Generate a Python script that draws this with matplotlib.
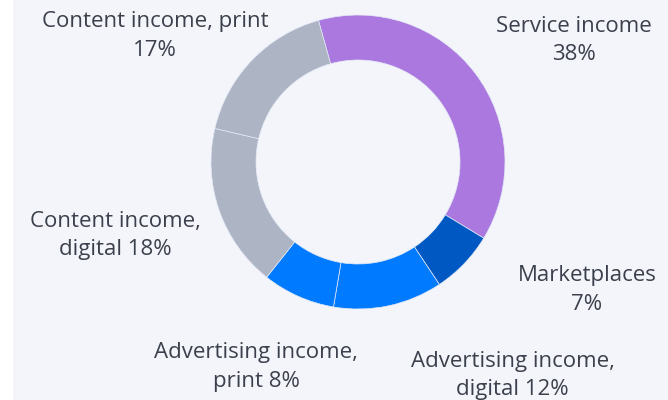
import matplotlib
matplotlib.use("Agg")
import matplotlib.pyplot as plt
from matplotlib.patches import Rectangle

labels = ["Service income", "Marketplaces", "Advertising income, digital",
          "Advertising income, print", "Content income, digital", "Content income, print"]
shares = [38, 7, 12, 8, 18, 17]
colors = ["#ab78df", "#0058c3", "#007aff", "#007aff", "#adb4c4", "#adb4c4"]

# label lines, centre x and first baseline (pixels from top-left)
label_lines = [("Service income", "38%"), ("Marketplaces", "7%"),
               ("Advertising income,", "digital 12%"), ("Advertising income,", "print 8%"),
               ("Content income,", "digital 18%"), ("Content income, print", "17%")]
label_pos = [(573.5, 31.5), (587, 281.5), (512.5, 367), (256, 358), (115, 226.5), (155, 27.5)]
line_gap = 28.5

W, H = 668, 400
bg = "#f3f5fa"
txt = "#3b404c"

plt.rcParams['font.family'] = ['Open Sans', 'DejaVu Sans']

fig = plt.figure(figsize=(W / 100, H / 100), dpi=100)
fig.patch.set_facecolor(bg)
ax = fig.add_axes([0, 0, 1, 1])
ax.set_facecolor(bg)

# white strip on the left edge
ax.add_patch(Rectangle((0, 0), 12, H, color="white", zorder=0))

ax.pie(shares, colors=colors, startangle=105.6, counterclock=False,
       center=(358, H - 162), radius=147,
       wedgeprops=dict(width=45, edgecolor="#e3e9f6", linewidth=0.5))

ax.set_xlim(0, W)
ax.set_ylim(0, H)
ax.set_aspect("equal")
ax.axis("off")

for (l1, l2), (x, y) in zip(label_lines, label_pos):
    ax.text(x, H - y, l1, ha="center", va="baseline", fontsize=16, color=txt)
    ax.text(x, H - y - line_gap, l2, ha="center", va="baseline", fontsize=16, color=txt)

fig.savefig("out.png", dpi=100, facecolor=bg)
